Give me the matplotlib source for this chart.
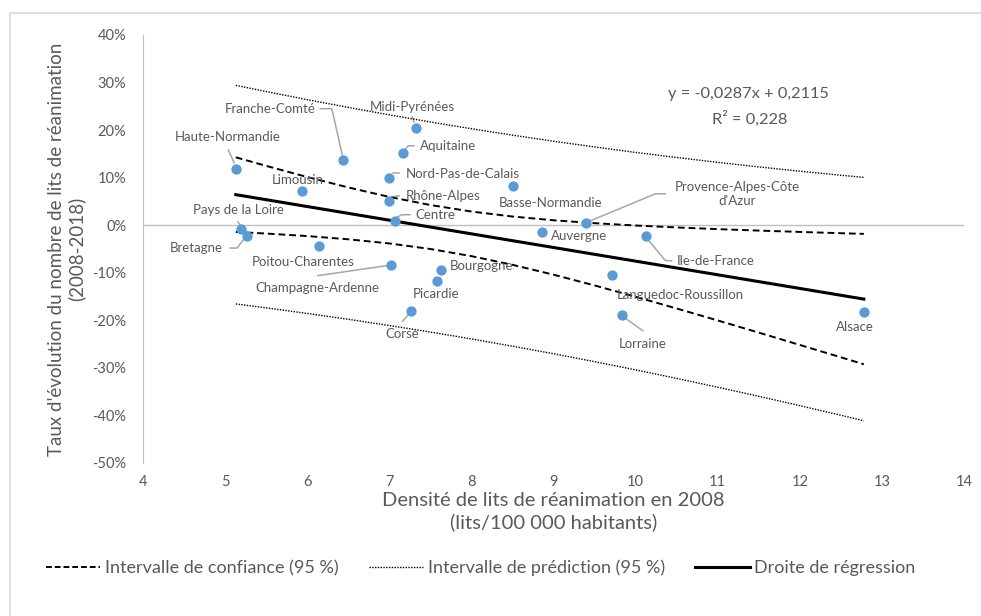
import numpy as np
import matplotlib
matplotlib.use("Agg")
import matplotlib.pyplot as plt
from matplotlib.lines import Line2D
from matplotlib.patches import Rectangle
from matplotlib.ticker import FuncFormatter

plt.rcParams["font.family"] = ["Lato", "DejaVu Sans"]

# données : densité 2008 (lits/100 000 hab.) et évolution 2008-2018
regions = [
    "Haute-Normandie", "Franche-Comté", "Midi-Pyrénées", "Aquitaine",
    "Nord-Pas-de-Calais", "Limousin", "Rhône-Alpes", "Centre",
    "Pays de la Loire", "Bretagne", "Poitou-Charentes", "Champagne-Ardenne",
    "Bourgogne", "Picardie", "Corse", "Basse-Normandie",
    "Provence-Alpes-Côte\nd'Azur", "Auvergne", "Ile-de-France",
    "Languedoc-Roussillon", "Lorraine", "Alsace",
]
densite = [5.13, 6.44, 7.33, 7.17, 7.00, 5.94, 7.00, 7.07, 5.19, 5.27, 6.14,
           7.02, 7.63, 7.58, 7.26, 8.51, 9.40, 8.86, 10.13, 9.71, 9.83, 12.78]
evolution = [0.118, 0.137, 0.205, 0.152, 0.100, 0.072, 0.051, 0.009, -0.008,
             -0.022, -0.043, -0.083, -0.094, -0.117, -0.180, 0.083, 0.005,
             -0.014, -0.022, -0.105, -0.189, -0.182]

# droite de régression et intervalles
x_curve = [5.13, 5.5, 6.0, 6.5, 7.0, 7.5, 8.0, 8.5, 9.0, 9.5, 10.0, 10.5,
           11.0, 11.5, 12.0, 12.5, 12.78]
reg_line = [0.0643, 0.0537, 0.0393, 0.0250, 0.0106, -0.0038, -0.0181, -0.0325,
            -0.0468, -0.0612, -0.0755, -0.0899, -0.1042, -0.1186, -0.1329,
            -0.1473, -0.1553]
ci_up = [0.1428, 0.1248, 0.1014, 0.0795, 0.0595, 0.0425, 0.0288, 0.0183,
         0.0104, 0.0043, -0.0006, -0.0047, -0.0082, -0.0113, -0.0141,
         -0.0168, -0.0182]
ci_low = [-0.0142, -0.0175, -0.0228, -0.0296, -0.0383, -0.0500, -0.0650,
          -0.0832, -0.1040, -0.1266, -0.1504, -0.1751, -0.2002, -0.2258,
          -0.2517, -0.2777, -0.2924]
pi_up = [0.2941, 0.2811, 0.2641, 0.2477, 0.2321, 0.2171, 0.2029, 0.1894,
         0.1766, 0.1646, 0.1531, 0.1424, 0.1322, 0.1226, 0.1136, 0.1051,
         0.1005]
pi_low = [-0.1655, -0.1738, -0.1855, -0.1978, -0.2109, -0.2246, -0.2391,
          -0.2544, -0.2702, -0.2869, -0.3041, -0.3221, -0.3406, -0.3597,
          -0.3794, -0.3996, -0.4111]

x_ticks = [4, 5, 6, 7, 8, 9, 10, 11, 12, 13, 14]
y_ticks = [-0.5, -0.4, -0.3, -0.2, -0.1, 0.0, 0.1, 0.2, 0.3, 0.4]

# position des étiquettes (centre du texte) et traits de rappel
label_pos = {
    "Haute-Normandie": (5.03, 0.186),
    "Franche-Comté": (5.55, 0.245),
    "Midi-Pyrénées": (7.28, 0.249),
    "Aquitaine": (7.72, 0.167),
    "Nord-Pas-de-Calais": (7.89, 0.108),
    "Limousin": (5.88, 0.095),
    "Rhône-Alpes": (7.65, 0.062),
    "Centre": (7.56, 0.022),
    "Pays de la Loire": (5.16, 0.032),
    "Bretagne": (4.65, -0.048),
    "Poitou-Charentes": (5.95, -0.077),
    "Champagne-Ardenne": (6.12, -0.132),
    "Bourgogne": (8.12, -0.085),
    "Picardie": (7.57, -0.144),
    "Corse": (7.16, -0.228),
    "Basse-Normandie": (8.96, 0.047),
    "Provence-Alpes-Côte\nd'Azur": (11.24, 0.065),
    "Auvergne": (9.31, -0.022),
    "Ile-de-France": (10.98, -0.075),
    "Languedoc-Roussillon": (10.55, -0.146),
    "Lorraine": (10.09, -0.249),
    "Alsace": (12.67, -0.213),
}
leaders = [
    [(5.04, 0.158), (5.11, 0.131)],
    [(6.16, 0.245), (6.30, 0.245), (6.43, 0.146)],
    [(7.28, 0.228), (7.30, 0.217)],
    [(7.19, 0.158), (7.23, 0.167), (7.30, 0.167)],
    [(7.045, 0.110), (7.12, 0.110)],
    [(7.045, 0.060), (7.12, 0.062)],
    [(7.09, 0.016), (7.15, 0.022), (7.25, 0.022)],
    [(5.157, 0.007), (5.18, 0.001)],
    [(5.06, -0.048), (5.145, -0.048), (5.22, -0.031)],
    [(6.13, -0.106), (6.97, -0.085)],
    [(7.163, -0.202), (7.23, -0.188)],
    [(9.445, 0.009), (10.24, 0.066), (10.36, 0.066)],
    [(10.15, -0.030), (10.36, -0.074), (10.44, -0.075)],
    [(9.87, -0.195), (10.09, -0.222)],
]

TEXT = "#595959"
AXIS = "#BFBFBF"
BLUE = "#5B9BD5"

fig = plt.figure(figsize=(9.81, 6.16), dpi=100)
fig.patches.append(Rectangle((10 / 981, -0.05), 1.1, 1.05 - 12.5 / 616,
                             transform=fig.transFigure, fill=False,
                             edgecolor="#D9D9D9", linewidth=1.2))
ax = fig.add_axes([143 / 981, 1 - 463 / 616, (964 - 143) / 981, (463 - 35) / 616])

ax.axhline(0, color=AXIS, linewidth=1, zorder=1)

for seg in leaders:
    xs, ys = zip(*seg)
    ax.plot(xs, ys, color="#A6A6A6", linewidth=1.1, zorder=2)

ax.plot(x_curve, ci_up, color="black", linestyle=(0, (3.5, 2)), linewidth=1.4, zorder=3)
ax.plot(x_curve, ci_low, color="black", linestyle=(0, (3.5, 2)), linewidth=1.4, zorder=3)
ax.plot(x_curve, pi_up, color="black", linestyle=(0, (1, 1)), linewidth=1.0, zorder=3)
ax.plot(x_curve, pi_low, color="black", linestyle=(0, (1, 1)), linewidth=1.0, zorder=3)
ax.plot(x_curve, reg_line, color="black", linewidth=2.2, zorder=3)

ax.scatter(densite, evolution, s=55, color=BLUE, zorder=4, linewidths=0)

for name in regions:
    lx, ly = label_pos[name]
    ax.text(lx, ly, name, ha="center", va="center", fontsize=9.5,
            color=TEXT, linespacing=1.2, zorder=5)

ax.text(11.37, 0.276, "y = -0,0287x + 0,2115", ha="center", va="center",
        fontsize=11.8, color=TEXT)
ax.text(11.39, 0.2235, "R² = 0,228", ha="center", va="center",
        fontsize=11.8, color=TEXT)

ax.set_xlim(4, 14)
ax.set_ylim(-0.5, 0.4)
ax.set_xticks(x_ticks)
ax.set_yticks(y_ticks)
ax.yaxis.set_major_formatter(FuncFormatter(lambda v, _p: f"{v * 100:.0f}%"))
ax.tick_params(length=0, labelsize=10.5, colors=TEXT, pad=12)
ax.tick_params(axis="x", pad=9)

for side in ["top", "right", "bottom"]:
    ax.spines[side].set_visible(False)
ax.spines["left"].set_color(AXIS)

ax.set_xlabel("Densité de lits de réanimation en 2008\n(lits/100 000 habitants)",
              fontsize=14.5, color=TEXT, labelpad=2, linespacing=1.3)
ax.set_ylabel("Taux d'évolution du nombre de lits de réanimation\n(2008-2018)",
              fontsize=13.5, color=TEXT, labelpad=5, linespacing=1.15)

handles = [
    Line2D([], [], color="black", linestyle=(0, (3, 1.5)), linewidth=1.4),
    Line2D([], [], color="black", linestyle=(0, (1, 1)), linewidth=1.0),
    Line2D([], [], color="black", linewidth=2.2),
]
fig.legend(handles, ["Intervalle de confiance (95 %)",
                     "Intervalle de prédiction (95 %)",
                     "Droite de régression"],
           loc="center", bbox_to_anchor=(0.49, 1 - 568 / 616), ncol=3,
           frameon=False, fontsize=13, handlelength=3.0, handletextpad=0.25,
           columnspacing=1.7, labelcolor=TEXT)

fig.savefig("out.png", dpi=100)
